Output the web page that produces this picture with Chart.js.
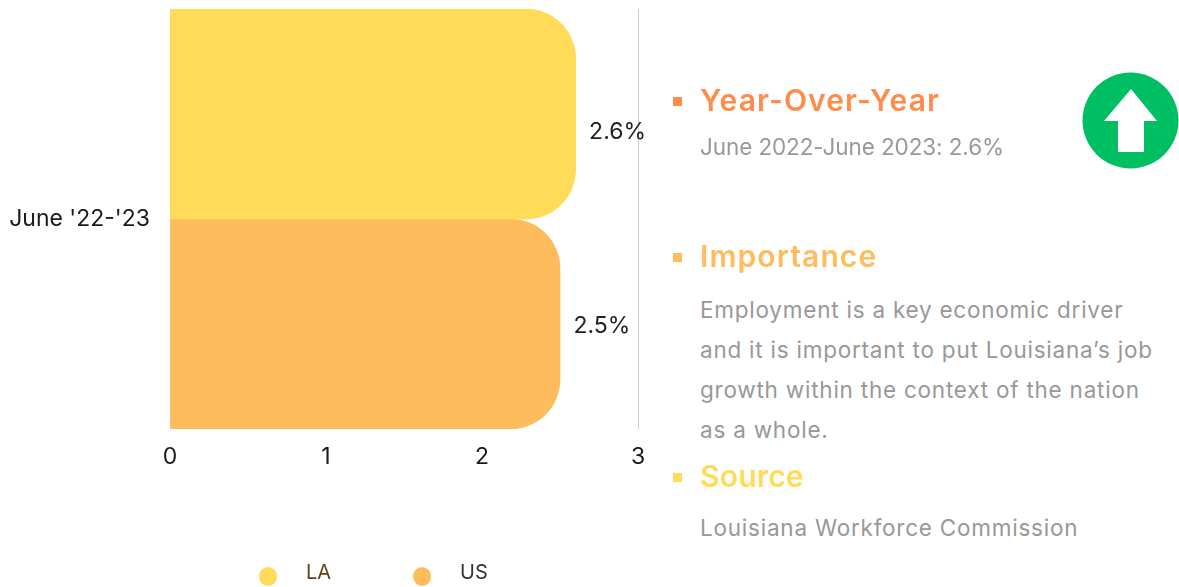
<!DOCTYPE html>
<html lang="en">
<head>
    <meta charset="UTF-8">
    <title>Job growth June '22-'23</title>
    <script src="https://cdn.jsdelivr.net/npm/chart.js@4/dist/chart.umd.min.js"></script>
    <style>
        html, body { margin: 0; padding: 0; background: #fff; }
        body { width: 1179px; height: 587px; overflow: hidden; position: relative; font-family: Inter, sans-serif; }
        #chartBox { position: absolute; left: 0; top: 0; width: 700px; height: 587px; }
        .abs { position: absolute; white-space: nowrap; }
        .bullet { position: absolute; left: 673px; width: 9px; height: 9px; }
        .head { position: absolute; left: 700px; white-space: nowrap; font-size: 30px; font-weight: 600; line-height: 34px; letter-spacing: 1.1px; }
        .body { position: absolute; left: 700px; white-space: nowrap; font-size: 22.5px; color: #989898; line-height: 40px; letter-spacing: 0.77px; }
        .dot { position: absolute; top: 567px; width: 18px; height: 19px; border-radius: 50%; }
        .key { position: absolute; top: 559px; font-size: 20px; line-height: 26px; }
    </style>
</head>
<body>
    <div id="chartBox"><canvas id="grafico"></canvas></div>

    <div class="bullet" style="top:97px;background:#ff8c4b"></div>
    <div class="head" style="top:83px;color:#ff8c4b">Year-Over-Year</div>
    <div class="body" style="top:127px;letter-spacing:-0.1px">June 2022-June 2023: 2.6%</div>

    <div class="bullet" style="top:253px;background:#ffbc5c"></div>
    <div class="head" style="top:239px;color:#ffbc5c">Importance</div>
    <div class="body" style="top:290px">Employment is a key economic driver<br>and it is important to put Louisiana’s job<br>growth within the context of the nation<br>as a whole.</div>

    <div class="bullet" style="top:473px;background:#ffdb58"></div>
    <div class="head" style="top:459px;color:#ffdb58;letter-spacing:0.2px">Source</div>
    <div class="body" style="top:508px">Louisiana Workforce Commission</div>

    <!-- Flecha verde -->
    <svg class="abs" style="left:1082px;top:72px" width="97" height="97" viewBox="0 0 97 97">
        <circle cx="48.5" cy="48.5" r="48" fill="#00bf63"/>
        <path d="M49 17 L75 49 L62 49 L62 80 L36 80 L36 49 L22 49 Z" fill="#fff"/>
    </svg>

    <div id="leyenda"></div>

    <script>
        const categorias = ["June '22-'23"];
        const nombres = ['LA', 'US'];
        const valoresLA = [2.6];
        const valoresUS = [2.5];
        const ticksX = [0, 1, 2, 3];
        const colores = ['#ffdb58', '#ffbc5c'];
        const coloresLeyenda = ['#5f4318', '#333333'];

        // Etiquetas de valor, el original las tiene algo desplazadas
        const etiquetas = {
            id: 'etiquetas',
            afterDatasetsDraw(chart) {
                const ctx = chart.ctx;
                const ajusteY = [18, 2];
                chart.data.datasets.forEach((ds, i) => {
                    chart.getDatasetMeta(i).data.forEach((bar, j) => {
                        ctx.save();
                        ctx.font = '23px Inter, sans-serif';
                        ctx.fillStyle = '#222';
                        ctx.textBaseline = 'middle';
                        ctx.fillText(ds.data[j] + '%', bar.x + 13.5, bar.y + ajusteY[i]);
                        ctx.restore();
                    });
                });
            }
        };

        new Chart(document.getElementById('grafico'), {
            type: 'bar',
            data: {
                labels: categorias,
                datasets: [
                    { label: nombres[0], data: valoresLA, backgroundColor: colores[0] },
                    { label: nombres[1], data: valoresUS, backgroundColor: colores[1] }
                ]
            },
            plugins: [etiquetas],
            options: {
                indexAxis: 'y',
                responsive: true,
                maintainAspectRatio: false,
                animation: false,
                layout: { padding: { top: 9, right: 62, left: 0, bottom: 0 } },
                datasets: {
                    bar: {
                        barPercentage: 1,
                        categoryPercentage: 1,
                        borderSkipped: false,
                        borderRadius: { topLeft: 0, bottomLeft: 0, topRight: 50, bottomRight: 50 }
                    }
                },
                plugins: { legend: { display: false }, tooltip: { enabled: false } },
                scales: {
                    x: {
                        min: ticksX[0],
                        max: ticksX[ticksX.length - 1],
                        afterFit(s) { s.height = 158; },
                        afterBuildTicks(s) { s.ticks = ticksX.map(v => ({ value: v })); },
                        border: { display: false },
                        grid: { color: '#cccccc', lineWidth: 1, drawTicks: false },
                        ticks: { color: '#1a1a1a', font: { family: 'Inter, sans-serif', size: 23 }, padding: 14, maxRotation: 0 }
                    },
                    y: {
                        afterFit(s) { s.width = 170; s.paddingTop = 0; s.paddingBottom = 0; },
                        border: { display: false },
                        grid: { display: false, drawTicks: false },
                        ticks: { color: '#1a1a1a', font: { family: 'Inter, sans-serif', size: 23 }, padding: 20 }
                    }
                }
            }
        });

        // Leyenda
        const posicionesPunto = [259, 413];
        const posicionesTexto = [306, 460];
        const leyenda = document.getElementById('leyenda');
        nombres.forEach((n, i) => {
            leyenda.innerHTML += '<div class="dot" style="left:' + posicionesPunto[i] + 'px;background:' + colores[i] + '"></div>' +
                '<div class="key" style="left:' + posicionesTexto[i] + 'px;color:' + coloresLeyenda[i] + '">' + n + '</div>';
        });
    </script>
</body>
</html>
